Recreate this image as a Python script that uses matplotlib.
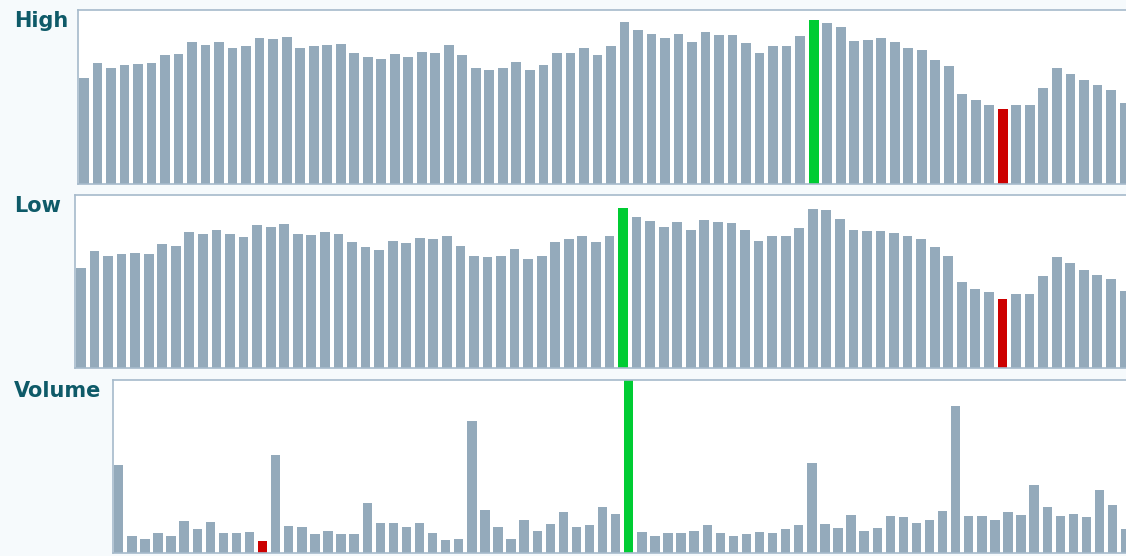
import numpy as np
import matplotlib
matplotlib.use("Agg")
import matplotlib.pyplot as plt

# --- Data (arbitrary units, no axis scale shown) ---
high = [106, 121, 116, 119, 120, 121, 129, 130, 142, 139,
        142, 136, 138, 146, 145, 147, 136, 138, 139, 140,
        131, 127, 125, 130, 127, 132, 131, 139, 129, 116,
        114, 116, 122, 114, 119, 131, 131, 136, 129, 138,
        162, 154, 150, 146, 150, 142, 152, 149, 149, 141,
        131, 138, 138, 148, 164, 161, 157, 143, 144, 146,
        142, 136, 134, 124, 118, 90, 84, 79, 75, 79,
        79, 96, 116, 110, 104, 99, 94, 81]

low = [100, 117, 112, 114, 115, 114, 124, 122, 136, 134,
       138, 134, 131, 143, 141, 144, 134, 133, 136, 134,
       126, 121, 118, 127, 125, 130, 129, 132, 122, 112,
       111, 112, 119, 109, 112, 126, 129, 132, 126, 132,
       160, 151, 147, 141, 146, 138, 148, 146, 145, 138,
       127, 132, 132, 140, 159, 158, 149, 138, 137, 137,
       135, 132, 129, 121, 112, 86, 79, 76, 69, 74,
       74, 92, 111, 105, 98, 93, 89, 77]

volume = [87, 17, 14, 20, 17, 32, 24, 31, 20, 20,
          21, 12, 97, 27, 26, 19, 22, 19, 19, 50,
          30, 30, 26, 30, 20, 13, 14, 131, 43, 26,
          14, 33, 22, 29, 41, 26, 28, 46, 39, 172,
          21, 17, 20, 20, 22, 28, 20, 17, 19, 21,
          20, 24, 28, 89, 29, 25, 38, 22, 25, 37,
          36, 30, 33, 42, 146, 37, 37, 33, 41, 38,
          68, 46, 37, 39, 36, 63, 48, 24]

labels = ["High", "Low", "Volume"]

BAR = "#94aabb"
UP = "#00cc33"
DOWN = "#cc0000"
FRAME = "#a6bacb"
TEXT = "#0e5a68"

W, H = 1126, 556
fig = plt.figure(figsize=(W / 100, H / 100), dpi=100, facecolor="#f6fafc")


def px_axes(left, top, width, height):
    # pixel box -> figure fraction
    return fig.add_axes([left / W, 1 - (top + height) / H, width / W, height / H])


# (left, top, width, height) in pixels; panels run past the right edge
boxes = [(78, 10, 1054, 174), (75, 195, 1057, 173), (113, 380, 1020, 173)]
series = [high, low, volume]
ymax = [174, 173, 172]
text_tops = [11, 196, 381]

for vals, box, top_val, name, ty in zip(series, boxes, ymax, labels, text_tops):
    ax = px_axes(*box)
    vals = np.array(vals)
    colors = [BAR] * len(vals)
    colors[int(np.argmax(vals))] = UP
    colors[int(np.argmin(vals))] = DOWN
    x = np.arange(len(vals))
    ax.bar(x, vals, width=0.72, color=colors, linewidth=0)
    ax.set_xlim(-0.44, len(vals) - 0.44)
    ax.set_ylim(0, top_val)
    ax.set_xticks([])
    ax.set_yticks([])
    ax.set_facecolor("white")
    for s in ax.spines.values():
        s.set_color(FRAME)
        s.set_linewidth(1.2)
    fig.text(14 / W, 1 - ty / H, name, ha="left", va="top",
             fontsize=15, fontweight="bold", color=TEXT, family="DejaVu Sans")

fig.savefig("out.png", dpi=100, facecolor=fig.get_facecolor())
